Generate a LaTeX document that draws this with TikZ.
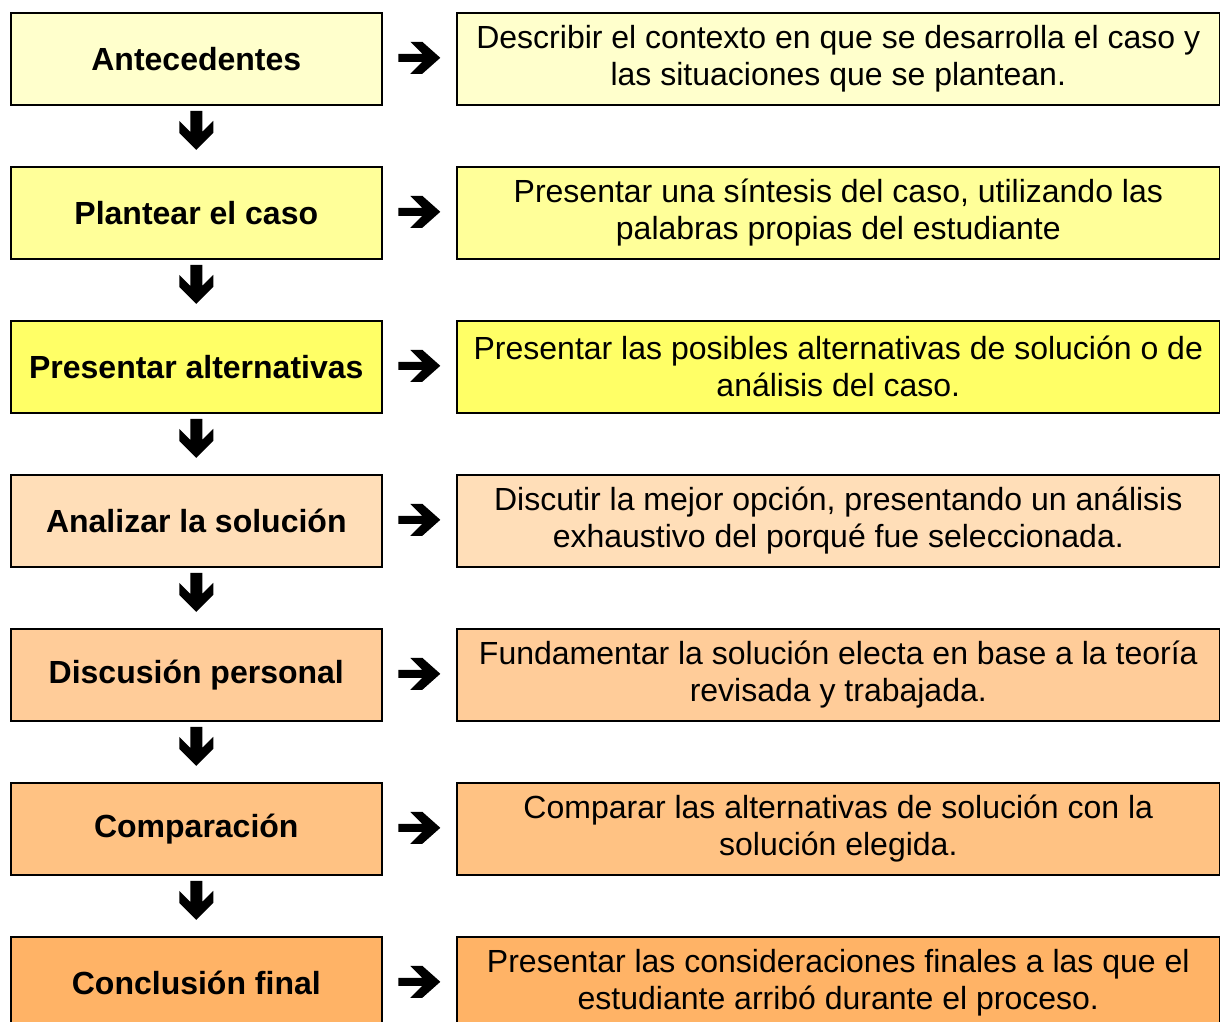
\documentclass[tikz,border=0pt]{standalone}
\usepackage{fontspec}
\setmainfont{Liberation Sans}
\usetikzlibrary{calc}
\definecolor{rowA}{HTML}{FFFFCC}
\definecolor{rowB}{HTML}{FFFF99}
\definecolor{rowC}{HTML}{FFFF66}
\definecolor{rowD}{HTML}{FFDEB8}
\definecolor{rowE}{HTML}{FFCC99}
\definecolor{rowF}{HTML}{FFC283}
\definecolor{rowG}{HTML}{FFB366}
\begin{document}
\begin{tikzpicture}[x=1pt,y=-1pt,
  box/.style={draw=black, line width=1.6pt, inner sep=0pt, anchor=north west, minimum height=92pt},
  lbox/.style={box, minimum width=371pt, font=\fontsize{32}{37}\selectfont\bfseries},
  rbox/.style={box, minimum width=763pt, align=center, font=\fontsize{32}{37}\selectfont},
  rarrow/.pic={\fill[black] (-21,-4) -- (3,-4) -- (-9,-16) -- (3,-16) -- (21,0) -- (3,16) -- (-9,16) -- (3,4) -- (-21,4) -- cycle;},
  darrow/.pic={\fill[black] (-6,-19.5) -- (6,-19.5) -- (6,1.5) -- (17,-9.5) -- (17,2.5) -- (0,19.5) -- (-17,2.5) -- (-17,-9.5) -- (-6,1.5) -- cycle;}]
\useasboundingbox (0,0) rectangle (1220,1021);
\fill[white] (0,0) rectangle (1220,1021);

\node[lbox, fill=rowA] (L1) at (10,12) {Antecedentes};
\node[rbox, fill=rowA] (R1) at (456,12) {Describir el contexto en que se desarrolla el caso y\\las situaciones que se plantean.};

\node[lbox, fill=rowB] (L2) at (10,166) {Plantear el caso};
\node[rbox, fill=rowB] (R2) at (456,166) {Presentar una síntesis del caso, utilizando las\\palabras propias del estudiante};

\node[lbox, fill=rowC] (L3) at (10,320) {Presentar alternativas};
\node[rbox, fill=rowC] (R3) at (456,320) {Presentar las posibles alternativas de solución o de\\análisis del caso.};

\node[lbox, fill=rowD] (L4) at (10,474) {Analizar la solución};
\node[rbox, fill=rowD] (R4) at (456,474) {Discutir la mejor opción, presentando un análisis\\exhaustivo del porqué fue seleccionada.};

\node[lbox, fill=rowE] (L5) at (10,628) {Discusión personal};
\node[rbox, fill=rowE] (R5) at (456,628) {Fundamentar la solución electa en base a la teoría\\revisada y trabajada.};

\node[lbox, fill=rowF] (L6) at (10,782) {Comparación};
\node[rbox, fill=rowF] (R6) at (456,782) {Comparar las alternativas de solución con la\\solución elegida.};

\node[lbox, fill=rowG] (L7) at (10,936) {Conclusión final};
\node[rbox, fill=rowG] (R7) at (456,936) {Presentar las consideraciones finales a las que el\\estudiante arribó durante el proceso.};

\foreach \i in {1,...,7} {
  \pic at ($(L\i.east)!0.5!(R\i.west)+(0,-1)$) {rarrow};
}
\foreach \i/\j in {1/2,2/3,3/4,4/5,5/6,6/7} {
  \pic at ($(L\i.south)!0.5!(L\j.north)+(0,-5.5)$) {darrow};
}
\end{tikzpicture}
\end{document}
